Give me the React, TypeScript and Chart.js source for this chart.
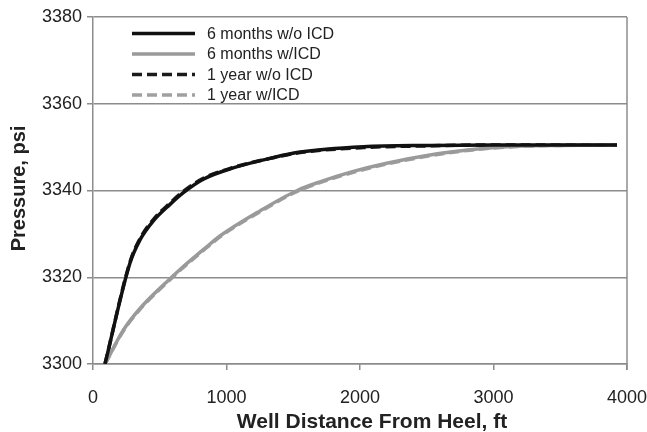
import { useEffect, useRef } from "react";
import { Chart, registerables } from "chart.js";

Chart.register(...registerables);

// Pressure profile along the well, with and without inflow control devices
const seriesLabels = ["6 months w/o ICD", "6 months w/ICD", "1 year w/o ICD", "1 year w/ICD"];

const distNoIcd = [90, 277, 352, 452, 577, 677, 826, 1050, 1326, 1540, 2025, 2524, 3000, 3500, 3925];
const p6mNoIcd = [3300, 3323.3, 3328.6, 3333.0, 3336.8, 3339.5, 3342.6, 3345.2, 3347.4, 3348.8, 3350.1, 3350.4, 3350.5, 3350.5, 3350.5];
const p1yNoIcd = [3300, 3323.5, 3328.9, 3333.3, 3337.1, 3339.8, 3342.8, 3345.3, 3347.4, 3348.7, 3349.9, 3350.3, 3350.5, 3350.5, 3350.5];

const distIcd = [90, 227, 352, 589, 652, 851, 951, 1251, 1530, 1700, 1950, 2200, 2524, 2824, 3100, 3500, 3925];
const p6mIcd = [3300, 3307.8, 3312.8, 3320, 3321.8, 3327.0, 3329.5, 3335.3, 3340, 3342, 3344.4, 3346.3, 3348.2, 3349.4, 3350.1, 3350.4, 3350.5];
const p1yIcd = [3300, 3307.6, 3312.6, 3319.8, 3321.6, 3326.8, 3329.3, 3335.1, 3339.8, 3341.8, 3344.2, 3346.1, 3348.0, 3349.3, 3350.0, 3350.4, 3350.5];

const xTicks = [0, 1000, 2000, 3000, 4000];
const yTicks = [3300, 3320, 3340, 3360, 3380];

const xTitle = "Well Distance From Heel, ft";
const yTitle = "Pressure, psi";

const FONT = '"Liberation Sans", Arial, sans-serif';
const GRID = "#8c8c8c";
const INK = "#222222";

const toPoints = (xs: number[], ys: number[]) => xs.map((x, i) => ({ x, y: ys[i] }));

// Legend drawn as a column inside the plot area, upper left
const insideLegend = {
  id: "insideLegend",
  afterDraw(chart: any) {
    const { ctx, chartArea } = chart;
    ctx.save();
    ctx.font = `16px ${FONT}`;
    ctx.textBaseline = "middle";
    ctx.textAlign = "left";
    chart.data.datasets.forEach((ds: any, i: number) => {
      const y = chartArea.top + 16.5 + i * 20.5;
      const x0 = chartArea.left + 39;
      ctx.strokeStyle = ds.borderColor;
      ctx.lineWidth = ds.borderWidth;
      ctx.setLineDash(ds.borderDash || []);
      ctx.beginPath();
      ctx.moveTo(x0, y);
      ctx.lineTo(x0 + 63, y);
      ctx.stroke();
      ctx.setLineDash([]);
      ctx.fillStyle = INK;
      ctx.fillText(ds.label, x0 + 75, y + 1);
    });
    ctx.restore();
  },
};

// Right-hand frame line of the plot area
const rightFrame = {
  id: "rightFrame",
  beforeDatasetsDraw(chart: any) {
    const { ctx, chartArea } = chart;
    ctx.save();
    ctx.strokeStyle = GRID;
    ctx.lineWidth = 1.5;
    ctx.beginPath();
    ctx.moveTo(chartArea.right, chartArea.top);
    ctx.lineTo(chartArea.right, chartArea.bottom + 6);
    ctx.stroke();
    ctx.restore();
  },
};

// Bold axis titles
const axisTitles = {
  id: "axisTitles",
  afterDraw(chart: any) {
    const { ctx, chartArea } = chart;
    ctx.save();
    ctx.fillStyle = INK;
    ctx.textAlign = "center";
    ctx.textBaseline = "alphabetic";
    ctx.font = `bold 21px ${FONT}`;
    ctx.fillText(xTitle, chartArea.left + (chartArea.right - chartArea.left) * 0.5225, chartArea.bottom + 64);
    ctx.font = `bold 20px ${FONT}`;
    ctx.translate(24.5, (chartArea.top + chartArea.bottom) / 2 - 2);
    ctx.rotate(-Math.PI / 2);
    ctx.fillText(yTitle, 0, 0);
    ctx.restore();
  },
};

export default function App() {
  const canvasRef = useRef<HTMLCanvasElement | null>(null);

  useEffect(() => {
    if (!canvasRef.current) return;
    const chart = new Chart(canvasRef.current, {
      type: "line",
      data: {
        datasets: [
          {
            label: seriesLabels[0],
            data: toPoints(distNoIcd, p6mNoIcd),
            borderColor: "#111111",
            borderWidth: 3.5,
            pointRadius: 0,
            cubicInterpolationMode: "monotone",
          },
          {
            label: seriesLabels[1],
            data: toPoints(distIcd, p6mIcd),
            borderColor: "#9a9a9a",
            borderWidth: 3.5,
            pointRadius: 0,
            cubicInterpolationMode: "monotone",
          },
          {
            label: seriesLabels[2],
            data: toPoints(distNoIcd, p1yNoIcd),
            borderColor: "#1a1a1a",
            borderWidth: 3.5,
            borderDash: [10, 5],
            pointRadius: 0,
            cubicInterpolationMode: "monotone",
          },
          {
            label: seriesLabels[3],
            data: toPoints(distIcd, p1yIcd),
            borderColor: "#a0a0a0",
            borderWidth: 3.5,
            borderDash: [10, 5],
            pointRadius: 0,
            cubicInterpolationMode: "monotone",
          },
        ],
      },
      options: {
        responsive: false,
        animation: false,
        layout: { padding: { top: 17, right: 0, left: 0, bottom: 0 } },
        plugins: {
          legend: { display: false },
          tooltip: { enabled: false },
        },
        scales: {
          x: {
            type: "linear",
            min: 0,
            max: 4000,
            afterBuildTicks: (scale: any) => {
              scale.ticks = xTicks.map((v) => ({ value: v }));
            },
            afterFit: (scale: any) => {
              scale.height = 68;
              scale.paddingLeft = 0;
              scale.paddingRight = 20;
            },
            grid: {
              drawOnChartArea: false,
              drawTicks: true,
              tickLength: 6,
              color: GRID,
              lineWidth: 1.5,
            },
            border: { display: true, color: GRID, width: 1.5 },
            ticks: {
              padding: 17,
              color: INK,
              font: { family: FONT, size: 18 },
              maxRotation: 0,
              callback: (v: any) => String(v),
            },
          },
          y: {
            type: "linear",
            min: 3300,
            max: 3380,
            afterBuildTicks: (scale: any) => {
              scale.ticks = yTicks.map((v) => ({ value: v }));
            },
            afterFit: (scale: any) => {
              scale.width = 93;
            },
            grid: {
              drawOnChartArea: true,
              drawTicks: true,
              tickLength: 6,
              color: GRID,
              lineWidth: 1.5,
            },
            border: { display: true, color: GRID, width: 1.5 },
            ticks: {
              padding: 5,
              color: INK,
              font: { family: FONT, size: 18 },
              callback: (v: any) => String(v),
            },
          },
        },
      },
      plugins: [rightFrame, insideLegend, axisTitles],
    } as any);
    return () => chart.destroy();
  }, []);

  return (
    <div style={{ position: "fixed", left: 0, top: 0, width: 647, height: 432, background: "#ffffff" }}>
      <canvas ref={canvasRef} width={647} height={432} style={{ display: "block" }} />
    </div>
  );
}
